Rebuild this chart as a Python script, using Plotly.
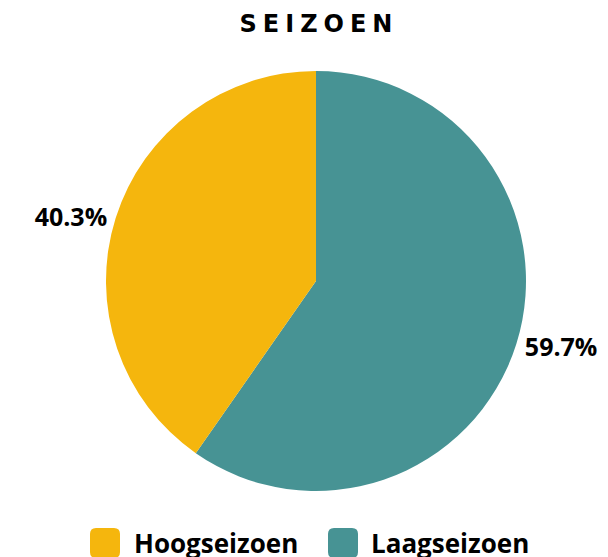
import plotly.graph_objects as go

categories = ["Laagseizoen", "Hoogseizoen"]
values = [59.7, 40.3]
colors = ["#479394", "#F5B60D"]
title_text = "SEIZOEN"

W, H = 608, 557
OFF = 8  # page body margin

def px(x):
    return (x - OFF) / W

def py(y):
    return 1 - (y - OFF) / H

fig = go.Figure()
fig.add_trace(go.Pie(
    labels=categories,
    values=values,
    sort=False,
    direction="clockwise",
    rotation=0,
    marker=dict(colors=colors, line=dict(width=0)),
    texttemplate="%{percent:.1%}",
    textposition="outside",
    textfont=dict(family="Open Sans", size=25, color="#000000", weight="bold"),
    domain=dict(x=[px(106), px(526)], y=[py(491), py(71)]),
    showlegend=False,
    hoverinfo="label+percent",
))

legend_items = [(categories[1], colors[1], 90, 132), (categories[0], colors[0], 328, 369)]
shapes = []
annotations = []
for name, col, sx, tx in legend_items:
    y0, y1 = 528, 558
    r = 6
    s = 30
    path = (f"M {px(sx + r)},{py(y0)} L {px(sx + s - r)},{py(y0)} "
            f"Q {px(sx + s)},{py(y0)} {px(sx + s)},{py(y0 + r)} "
            f"L {px(sx + s)},{py(y1 - r)} Q {px(sx + s)},{py(y1)} {px(sx + s - r)},{py(y1)} "
            f"L {px(sx + r)},{py(y1)} Q {px(sx)},{py(y1)} {px(sx)},{py(y1 - r)} "
            f"L {px(sx)},{py(y0 + r)} Q {px(sx)},{py(y0)} {px(sx + r)},{py(y0)} Z")
    shapes.append(dict(type="path", xref="paper", yref="paper", path=path,
                       fillcolor=col, line=dict(width=0)))
    annotations.append(dict(text=name, xref="paper", yref="paper", x=px(tx), y=py(543),
                            xanchor="left", yanchor="middle", showarrow=False,
                            font=dict(family="Open Sans", size=26, color="#000000", weight="bold")))

fig.update_layout(
    width=W, height=H,
    margin=dict(l=0, r=0, t=0, b=0),
    paper_bgcolor="#FFFFFF",
    plot_bgcolor="#FFFFFF",
    title=dict(text="\u2005".join(title_text), x=px(316), xanchor="center", y=py(24), yanchor="middle",
               font=dict(family="DejaVu Sans", size=24, color="#000000", weight="bold")),
    shapes=shapes,
    annotations=annotations,
)

fig.write_html("out.html")
